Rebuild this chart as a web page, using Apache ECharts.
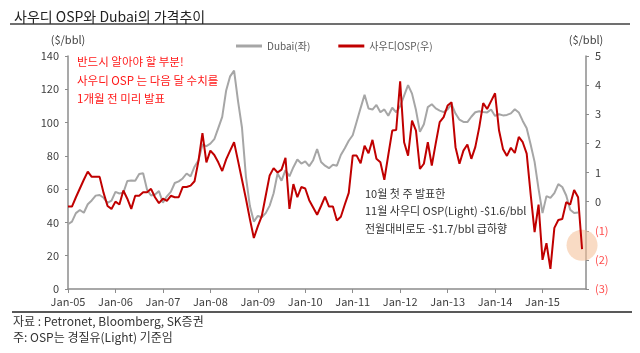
<!DOCTYPE html>
<html>
<head>
<meta charset="utf-8">
<script src="https://cdn.jsdelivr.net/npm/echarts@6/dist/echarts.min.js"></script>
<style>
  html, body { margin: 0; padding: 0; background: #fff; }
  #chart { width: 640px; height: 353px; }
</style>
</head>
<body>
<div id="chart"></div>
<script>
// 월별 카테고리 (Jan-05 ~ Dec-15)
var years = ['05', '06', '07', '08', '09', '10', '11', '12', '13', '14', '15'];
var monthNames = ['Jan', 'Feb', 'Mar', 'Apr', 'May', 'Jun', 'Jul', 'Aug', 'Sep', 'Oct', 'Nov', 'Dec'];
var months = [];
years.forEach(function (y) {
    monthNames.forEach(function (m) { months.push(m + '-' + y); });
});

// Dubai ($/bbl, 좌축)
var dubai = [
    38.9, 40.5, 45.6, 47.5, 45.8, 50.9, 53.2, 56.1, 56.5, 54.8, 51.8, 53.1,
    58.4, 57.4, 57.9, 64.9, 65.2, 65.0, 69.1, 69.6, 59.6, 56.2, 56.8, 58.8,
    51.9, 55.7, 58.4, 63.7, 64.7, 66.4, 69.4, 67.7, 73.5, 77.4, 86.8, 85.8,
    87.3, 90.0, 96.7, 103.4, 119.3, 127.8, 131.2, 112.9, 96.9, 67.4, 49.8, 40.5,
    43.9, 43.1, 45.6, 50.1, 57.5, 69.4, 65.1, 71.4, 67.7, 73.2, 77.8, 75.4,
    76.7, 73.8, 77.4, 84.1, 76.3, 74.1, 72.6, 74.6, 74.1, 80.5, 84.6, 89.1,
    92.4, 100.5, 108.7, 116.7, 108.4, 107.8, 110.6, 106.2, 107.9, 104.1, 108.9, 106.2,
    109.8, 116.2, 122.5, 117.4, 107.5, 94.4, 99.0, 109.3, 111.0, 108.5, 107.2, 106.3,
    107.9, 111.1, 105.4, 101.7, 100.4, 100.3, 103.5, 106.2, 106.8, 106.3, 106.1, 107.9,
    104.0, 105.0, 104.3, 104.6, 105.5, 108.0, 106.1, 101.0, 96.6, 86.8, 76.4, 60.2,
    45.6, 55.8, 54.7, 57.6, 63.0, 61.3, 56.2, 47.6, 45.6, 46.0
];

// 사우디 OSP (Light, $/bbl, 우축)
var osp = [
    -0.17, -0.17, 0.15, 0.45, 0.75, 1.03, 0.85, 0.85, 0.85, 0.3, -0.15, -0.25,
    0.0, -0.1, 0.38, 0.1, -0.25, 0.2, 0.2, 0.32, 0.32, 0.44, 0.15, -0.05,
    0.1, 0.03, 0.2, 0.15, 0.15, 0.5, 0.5, 0.55, 0.7, 1.4, 2.35, 1.35,
    1.75, 1.6, 1.35, 1.05, 1.45, 1.75, 2.04, 1.4, 0.75, 0.1, -0.6, -1.25,
    -0.85, -0.5, 0.2, 0.9, 1.15, 1.0, 1.1, 1.5, -0.25, 0.6, 0.15, 0.5,
    0.45, 0.05, -0.2, -0.45, -0.15, 0.17, -0.17, -0.17, -0.65, -0.52, -0.1, 0.3,
    1.58, 1.58, 1.32, 1.92, 1.66, 2.12, 1.47, 1.35, 0.75, 1.6, 2.44, 2.46,
    4.13, 2.04, 1.58, 2.78, 2.44, 1.12, 1.3, 2.04, 1.24, 2.0, 2.73, 2.9,
    3.3, 3.41, 1.87, 1.3, 1.75, 1.96, 1.47, 1.87, 2.55, 3.38, 3.18, 3.45,
    3.72, 2.45, 1.81, 1.57, 1.85, 1.67, 2.22, 2.04, 1.65, 0.26, -1.05, -0.1,
    -2.0, -1.43, -2.31, -0.9, -0.63, -0.6, -0.02, -0.1, 0.4, 0.15, -1.63
];

// 강조 원 (11월 OSP 발표치)
var highlight = [['Nov-15', -1.5]];

var leftTicks = { min: 0, max: 140, interval: 20 };
var rightTicks = { min: -3, max: 5, interval: 1 };

var font = "'Noto Sans CJK KR', sans-serif";
var myChart = echarts.init(document.getElementById('chart'));

var option = {
    backgroundColor: '#fff',
    animation: false,
    textStyle: { fontFamily: font },
    title: {
        text: '사우디 OSP와 Dubai의 가격추이',
        left: 9,
        top: 5,
        textStyle: { fontSize: 14, fontWeight: 'normal', color: '#222', fontFamily: font }
    },
    legend: {
        data: ['Dubai(좌)', '사우디OSP(우)'],
        left: 231,
        top: 36,
        icon: 'rect',
        itemWidth: 26,
        itemHeight: 3,
        itemGap: 28,
        textStyle: { fontSize: 10, color: '#595959', fontFamily: font }
    },
    grid: { left: 68, right: 54, top: 56, bottom: 64 },
    xAxis: {
        type: 'category',
        data: months,
        boundaryGap: false,
        axisLine: { lineStyle: { color: '#8c8c8c', width: 1.5 } },
        axisTick: {
            interval: function (i) { return i % 12 === 0; },
            length: 4,
            lineStyle: { color: '#8c8c8c' }
        },
        axisLabel: {
            interval: function (i) { return i % 12 === 0; },
            color: '#404040',
            fontSize: 11,
            margin: 7
        },
        splitLine: { show: false }
    },
    yAxis: [{
        type: 'value',
        min: leftTicks.min,
        max: leftTicks.max,
        interval: leftTicks.interval,
        name: '($/bbl)',
        nameLocation: 'end',
        nameGap: 11,
        nameTextStyle: { color: '#404040', fontSize: 11, align: 'center' },
        axisLine: { show: true, lineStyle: { color: '#8c8c8c', width: 1.5 } },
        axisTick: { show: true, length: 3, lineStyle: { color: '#8c8c8c' } },
        axisLabel: { color: '#404040', fontSize: 11, margin: 9 },
        splitLine: { show: false }
    }, {
        type: 'value',
        min: rightTicks.min,
        max: rightTicks.max,
        interval: rightTicks.interval,
        position: 'right',
        name: '($/bbl)',
        nameLocation: 'end',
        nameGap: 11,
        nameTextStyle: { color: '#404040', fontSize: 11, align: 'center' },
        axisLine: { show: true, lineStyle: { color: '#8c8c8c', width: 1.5 } },
        axisTick: { show: true, length: 3, lineStyle: { color: '#8c8c8c' } },
        axisLabel: {
            color: '#404040',
            fontSize: 11,
            margin: 9,
            formatter: function (v) {
                return v < 0 ? '{neg|(' + (-v) + ')}' : String(v);
            },
            rich: { neg: { color: '#ff4d4d', fontSize: 11 } }
        },
        splitLine: { show: false }
    }],
    series: [{
        name: 'highlight',
        type: 'scatter',
        yAxisIndex: 1,
        data: highlight,
        symbolSize: 31,
        z: 1,
        silent: true,
        itemStyle: { color: 'rgba(244, 190, 150, 0.7)' }
    }, {
        name: 'Dubai(좌)',
        type: 'line',
        yAxisIndex: 0,
        data: dubai,
        showSymbol: false,
        z: 2,
        lineStyle: { color: '#a6a6a6', width: 2 },
        itemStyle: { color: '#a6a6a6' }
    }, {
        name: '사우디OSP(우)',
        type: 'line',
        yAxisIndex: 1,
        data: osp,
        showSymbol: false,
        z: 3,
        lineStyle: { color: '#c00000', width: 2 },
        itemStyle: { color: '#c00000' }
    }],
    graphic: [
        { type: 'line', shape: { x1: 10, y1: 24, x2: 630, y2: 24 }, style: { stroke: '#404040', lineWidth: 1.5 } },
        { type: 'line', shape: { x1: 12, y1: 312, x2: 632, y2: 312 }, style: { stroke: '#222', lineWidth: 1.5 } },
        { type: 'text', left: 77, top: 56, style: { text: '반드시 알아야 할 부분!', fill: '#ff1a1a', font: '11.5px ' + font } },
        { type: 'text', left: 77, top: 75, style: { text: '사우디 OSP 는 다음 달 수치를', fill: '#ff1a1a', font: '11.5px ' + font } },
        { type: 'text', left: 77, top: 93, style: { text: '1개월 전 미리 발표', fill: '#ff1a1a', font: '11.5px ' + font } },
        { type: 'text', left: 365, top: 188, style: { text: '10월 첫 주 발표한', fill: '#333', font: '11px ' + font } },
        { type: 'text', left: 365, top: 205, style: { text: '11월 사우디 OSP(Light) -$1.6/bbl', fill: '#333', font: '11px ' + font } },
        { type: 'text', left: 365, top: 223, style: { text: '전월대비로도 -$1.7/bbl 급하향', fill: '#333', font: '11px ' + font } },
        { type: 'text', left: 13, top: 315, style: { text: '자료 : Petronet, Bloomberg, SK증권', fill: '#333', font: '12px ' + font } },
        { type: 'text', left: 13, top: 331, style: { text: '주: OSP는 경질유(Light) 기준임', fill: '#333', font: '12px ' + font } }
    ]
};

myChart.setOption(option);
</script>
</body>
</html>
